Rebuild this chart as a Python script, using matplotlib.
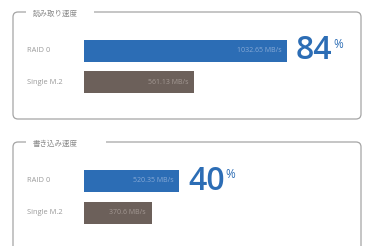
import matplotlib.pyplot as plt
from matplotlib.patches import FancyBboxPatch, Rectangle
from matplotlib.transforms import IdentityTransform, blended_transform_factory

plt.rcParams['font.family'] = ['Noto Sans CJK JP', 'DejaVu Sans']

# data
labels = ["RAID 0", "Single M.2"]
titles = ["読み取り速度", "書き込み速度"]
read_speed = [1032.65, 561.13]
write_speed = [520.35, 370.6]
value_text = [["1032.65 MB/s", "561.13 MB/s"], ["520.35 MB/s", "370.6 MB/s"]]
gain = ["84", "40"]

BLUE = "#2c6db5"
BROWN = "#6c605a"
W, H = 366, 246

fig = plt.figure(figsize=(W / 100, H / 100), dpi=100)
fig.patch.set_facecolor("white")


def px(x, y):
    # pixel (from top-left) -> display coords
    return x, H - y


def panel(top, bottom, gap_end, ax_rect, speeds, texts, title, pct):
    # rounded frame
    x0, y0 = px(13, bottom)
    box = FancyBboxPatch((x0, y0), 348, bottom - top,
                         boxstyle="round,pad=0,rounding_size=5",
                         transform=IdentityTransform(), facecolor="none",
                         edgecolor="#a5a5a5", lw=0.9)
    fig.add_artist(box)
    gx, gy = px(26, top + 4)
    fig.add_artist(Rectangle((gx, gy), gap_end - 26, 8, transform=IdentityTransform(),
                             facecolor="white", edgecolor="none"))
    tx, ty = px(33, top + 1.5)
    fig.text(tx / W, ty / H, title, fontsize=5.4, color="#8a8a8a", va="center", ha="left")

    ax = fig.add_axes(ax_rect)
    ax.barh([0.5, 1.5], speeds, height=0.7, color=[BLUE, BROWN])
    ax.set_xlim(0, speeds[0])
    ax.set_ylim(2, 0)
    ax.axis("off")

    tr = blended_transform_factory(fig.transFigure, ax.transData)
    for i, (lab, v) in enumerate(zip(labels, speeds)):
        fig.text(27 / W, i + 0.5, lab, transform=tr, fontsize=5.4, color="#9a9a9a",
                 va="center", ha="left", family=["Open Sans", "DejaVu Sans"])
        ax.annotate(texts[i], (v, i + 0.5), xytext=(-4, 0), textcoords="offset points",
                    ha="right", va="center", fontsize=5,
                    color="#86a9d6" if i == 0 else "#a39893",
                    family=["Open Sans", "DejaVu Sans"])

    big = ax.annotate(pct, (speeds[0], 0.5), xytext=(6.5, 0), textcoords="offset points",
                      ha="left", va="center", fontsize=23, color=BLUE,
                      family=["Open Sans", "DejaVu Sans"], weight="semibold")
    ax.annotate("%", (1, 0.9), xycoords=big, xytext=(0.3, 0), textcoords="offset points",
                ha="left", va="top", fontsize=8.5, color=BLUE,
                family=["Open Sans", "DejaVu Sans"])
    return ax


panel(12, 119, 94, [84 / W, 1 - 98 / H, 203 / W, 63 / H],
      read_speed, value_text[0], titles[0], gain[0])
panel(142, 262, 106, [84 / W, 1 - 229 / H, 95 / W, 64 / H],
      write_speed, value_text[1], titles[1], gain[1])

fig.savefig("out.png", dpi=100)
